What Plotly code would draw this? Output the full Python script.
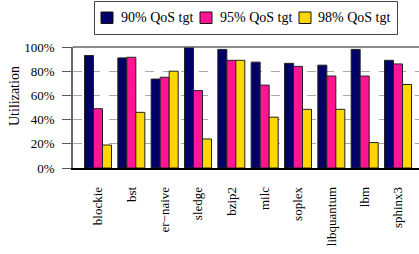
import plotly.graph_objects as go

categories = ["blockie", "bst", "er\u2212naive", "sledge", "bzip2", "milc", "soplex", "libquantum", "lbm", "sphinx3"]
qos90 = [93, 91, 73.5, 100, 98, 87.5, 86.5, 85, 98, 89]
qos95 = [49, 91.5, 75, 64, 89, 68.5, 84, 76, 76, 86]
qos98 = [19, 46, 80, 24, 89, 42, 48.5, 48.5, 21, 69]
series_names = ["90% QoS tgt", "95% QoS tgt", "98% QoS tgt"]
ytick_vals = [0, 20, 40, 60, 80, 100]
ytick_text = ["0%", "20%", "40%", "60%", "80%", "100%"]
colors = ["#000066", "#ff1493", "#ffd700"]

FONT = "Liberation Serif, Times New Roman, serif"
W, H = 419, 254
ML, MR, MT, MB = 73, 0, 47, 86
PW, PH = W - ML - MR, H - MT - MB


def px(x):
    return (x - ML) / PW


def py(y):
    return (H - MB - y) / PH


fig = go.Figure()
for name, vals, col in zip(series_names, [qos90, qos95, qos98], colors):
    fig.add_trace(go.Bar(
        x=list(range(len(categories))), y=vals, name=name,
        marker=dict(color=col, line=dict(color="#222222", width=1)),
    ))

shapes = [
    dict(type="line", xref="paper", yref="paper", x0=0, x1=1, y0=1, y1=1,
         line=dict(color="#666666", width=1.5)),
    # legend frame
    dict(type="rect", xref="paper", yref="paper", x0=px(94.5), x1=px(397.5), y0=py(34.5), y1=py(1.5),
         line=dict(color="#444444", width=1), fillcolor="white", layer="above"),
]
annotations = [
    dict(text="Utilization", xref="paper", yref="paper", x=px(14), y=py(96), textangle=-90,
         showarrow=False, xanchor="center", yanchor="middle", font=dict(family=FONT, size=14)),
]
legend_swatch_x = [101, 200, 299]
legend_text_x = [119, 218, 316]
for name, col, sx, tx in zip(series_names, colors, legend_swatch_x, legend_text_x):
    shapes.append(dict(type="rect", xref="paper", yref="paper", x0=px(sx), x1=px(sx + 12),
                       y0=py(23.5), y1=py(12), fillcolor=col, layer="above",
                       line=dict(color="#111111", width=1)))
    annotations.append(dict(text=name, xref="paper", yref="paper", x=px(tx), y=py(18),
                            showarrow=False, xanchor="left", yanchor="middle",
                            font=dict(family=FONT, size=14)))

fig.update_layout(
    width=W, height=H,
    margin=dict(l=ML, r=MR, t=MT, b=MB, autoexpand=False),
    barmode="group", bargap=0.19, bargroupgap=0,
    plot_bgcolor="white", paper_bgcolor="white",
    font=dict(family=FONT, size=13, color="black"),
    showlegend=False,
    xaxis=dict(
        tickmode="array", tickvals=list(range(len(categories))), ticktext=categories,
        tickangle=-90, range=[-0.75, 9.63], showgrid=False, automargin=False,
        showline=True, linecolor="black", linewidth=1.5, ticks="",
        ticklabelstandoff=12,
        tickfont=dict(family=FONT, size=13),
    ),
    yaxis=dict(
        range=[0, 100], tickmode="array", tickvals=ytick_vals, ticktext=ytick_text,
        showgrid=True, gridcolor="#aaaaaa", griddash="dash", gridwidth=1,
        showline=True, linecolor="#666666", linewidth=1.5, automargin=False,
        ticks="outside", ticklen=9, tickcolor="#555555",
        ticklabelstandoff=5,
        zeroline=False,
        tickfont=dict(family=FONT, size=13),
    ),
    shapes=shapes,
    annotations=annotations,
)

fig.write_html("out.html", post_script="document.body.style.margin='0';",
               config={"displayModeBar": False})
